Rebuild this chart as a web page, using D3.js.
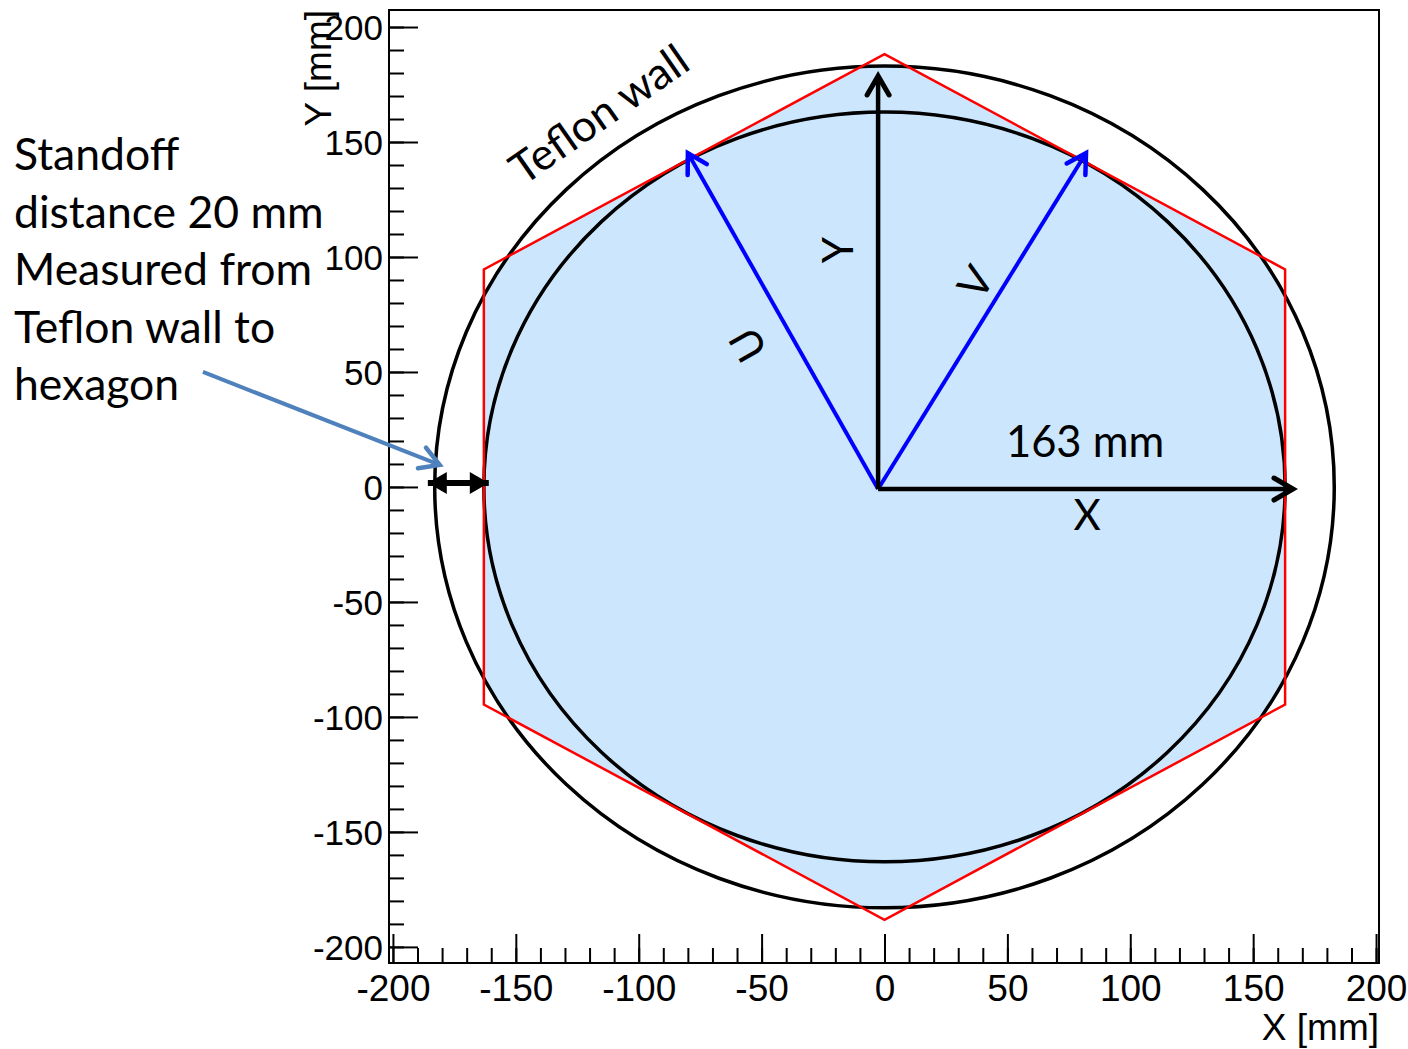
<!DOCTYPE html>
<html lang="en">
<head>
    <meta charset="UTF-8">
    <title>Hexagon and Teflon wall</title>
    <script src="https://d3js.org/d3.v7.min.js"></script>
    <style>
        body { margin: 0; background: #fff; }
        svg text { fill: #000; }
    </style>
</head>
<body>
    <div id="plot"></div>

    <script>
        // Axis ticks (mm)
        const xTickValues = [-200, -150, -100, -50, 0, 50, 100, 150, 200];
        const yTickValues = [-200, -150, -100, -50, 0, 50, 100, 150, 200];
        const minorTickValues = d3.range(-200, 201, 10);

        // Circles: Teflon wall and inner circle (radius in mm)
        const circleRadii = [183, 163];

        // Hexagon vertices (mm)
        const hexX = [0, 163, 163, 0, -163, -163];
        const hexY = [188.2, 94.6, -94.6, -188.2, -94.6, 94.6];

        // Arrows drawn on top of the plot (mm)
        const blackArrows = [
            { x1: -2.6, y1: -0.9, x2: -2.6, y2: 178.7 },
            { x1: -2.6, y1: -0.9, x2: 166.2, y2: -0.9 }
        ];
        const blueArrows = [
            { x1: -2.6, y1: -0.9, x2: -80, y2: 145.2 },
            { x1: -2.6, y1: -0.9, x2: 82, y2: 145.2 }
        ];
        const standoffArrow = { x1: -185.8, y1: 1.7, x2: -161, y2: 1.7 };
        const pointerArrow = { x1: -277.3, y1: 50, x2: -181, y2: 9.6 };

        // Arrow labels (mm, angle in degrees)
        const arrowLabels = [
            { text: 'Y', x: -19, y: 103, angle: -90 },
            { text: 'U', x: -55.6, y: 61.7, angle: -119.5 },
            { text: 'V', x: 37, y: 89, angle: -58 }
        ];
        const noteLines = ['Standoff', 'distance 20 mm', 'Measured from', 'Teflon wall to', 'hexagon'];

        const width = 1408;
        const height = 1049;
        const frame = { left: 389, right: 1379, top: 10, bottom: 963 };

        const svg = d3.select('#plot')
            .append('svg')
            .attr('width', width)
            .attr('height', height);

        const xScale = d3.scaleLinear()
            .domain([-201.6, 201.2])
            .range([frame.left, frame.right]);

        const yScale = d3.scaleLinear()
            .domain([-207, 207.4])
            .range([frame.bottom, frame.top]);

        const defs = svg.append('defs');

        // open chevron heads
        function chevron(id, color, size, sw) {
            defs.append('marker')
                .attr('id', id)
                .attr('markerUnits', 'userSpaceOnUse')
                .attr('viewBox', `${-size - 6} ${-size} ${2 * size + 6} ${2 * size}`)
                .attr('markerWidth', 2 * size + 6)
                .attr('markerHeight', 2 * size)
                .attr('refX', 0)
                .attr('refY', 0)
                .attr('orient', 'auto-start-reverse')
                .append('path')
                .attr('d', `M${-size * 0.95},${-size * 0.55} L0,0 L${-size * 0.95},${size * 0.55}`)
                .attr('fill', 'none')
                .attr('stroke', color)
                .attr('stroke-width', sw)
                .attr('stroke-linecap', 'round');
        }
        chevron('headBlack', '#000', 20, 5);
        chevron('headBlue', '#0000ff', 20, 4.5);
        chevron('headPointer', '#4f81bd', 20, 4.5);

        defs.append('marker')
            .attr('id', 'headSolid')
            .attr('markerUnits', 'userSpaceOnUse')
            .attr('viewBox', '-20 -12 22 24')
            .attr('markerWidth', 22)
            .attr('markerHeight', 24)
            .attr('refX', 0)
            .attr('refY', 0)
            .attr('orient', 'auto-start-reverse')
            .append('path')
            .attr('d', 'M-19,-11 L0,0 L-19,11 Z')
            .attr('fill', '#000');

        defs.append('clipPath')
            .attr('id', 'wallClip')
            .append('ellipse')
            .attr('cx', xScale(0))
            .attr('cy', yScale(0))
            .attr('rx', xScale(circleRadii[0]) - xScale(0))
            .attr('ry', yScale(0) - yScale(circleRadii[0]));

        const hexPoints = hexX.map((d, i) => [xScale(d), yScale(hexY[i])]);
        const hexPath = 'M' + hexPoints.join('L') + 'Z';

        // hexagon fill, cut at the Teflon wall
        svg.append('path')
            .attr('d', hexPath)
            .attr('fill', '#cce7fd')
            .attr('clip-path', 'url(#wallClip)');

        // circles
        svg.selectAll('ellipse.ring')
            .data(circleRadii)
            .join('ellipse')
            .attr('class', 'ring')
            .attr('cx', xScale(0))
            .attr('cy', yScale(0))
            .attr('rx', d => xScale(d) - xScale(0))
            .attr('ry', d => yScale(0) - yScale(d))
            .attr('fill', 'none')
            .attr('stroke', '#000')
            .attr('stroke-width', 3.5);

        svg.append('path')
            .attr('d', hexPath)
            .attr('fill', 'none')
            .attr('stroke', '#ff0000')
            .attr('stroke-width', 2.5);

        // frame
        svg.append('rect')
            .attr('x', frame.left)
            .attr('y', frame.top)
            .attr('width', frame.right - frame.left)
            .attr('height', frame.bottom - frame.top)
            .attr('fill', 'none')
            .attr('stroke', '#000')
            .attr('stroke-width', 2);

        // axes, ticks pointing inside
        const tickFont = '"Liberation Sans", Arial, sans-serif';
        const plainNum = d => String(d);

        const xMinor = svg.append('g')
            .attr('transform', `translate(0,${frame.bottom})`)
            .call(d3.axisBottom(xScale).tickValues(minorTickValues).tickSize(-15).tickFormat(''));
        const xMajor = svg.append('g')
            .attr('transform', `translate(0,${frame.bottom})`)
            .call(d3.axisBottom(xScale).tickValues(xTickValues).tickSize(-29).tickPadding(38).tickFormat(plainNum));
        const yMinor = svg.append('g')
            .attr('transform', `translate(${frame.left},0)`)
            .call(d3.axisLeft(yScale).tickValues(minorTickValues).tickSize(-15).tickFormat(''));
        const yMajor = svg.append('g')
            .attr('transform', `translate(${frame.left},0)`)
            .call(d3.axisLeft(yScale).tickValues(yTickValues).tickSize(-29).tickPadding(6).tickFormat(plainNum));

        [xMinor, xMajor, yMinor, yMajor].forEach(g => {
            g.select('.domain').remove();
            g.selectAll('line').attr('stroke', '#000').attr('stroke-width', 2);
        });
        xMajor.selectAll('text')
            .attr('font-family', tickFont)
            .attr('font-size', 37)
            .attr('fill', '#000')
            .attr('dy', '0');
        yMajor.selectAll('text')
            .attr('font-family', tickFont)
            .attr('font-size', 35)
            .attr('fill', '#000')
            .attr('dy', '0.36em');

        svg.append('text')
            .attr('x', frame.right)
            .attr('y', 1040)
            .attr('text-anchor', 'end')
            .attr('font-family', tickFont)
            .attr('font-size', 37)
            .text('X [mm]');

        svg.append('text')
            .attr('transform', `translate(331,${frame.top}) rotate(-90)`)
            .attr('text-anchor', 'end')
            .attr('font-family', tickFont)
            .attr('font-size', 37)
            .text('Y [mm]');

        // annotations
        const noteFont = 'Lato, "Open Sans", sans-serif';

        const arrowLine = (d, marker, color, sw) => svg.append('line')
            .attr('x1', xScale(d.x1)).attr('y1', yScale(d.y1))
            .attr('x2', xScale(d.x2)).attr('y2', yScale(d.y2))
            .attr('stroke', color)
            .attr('stroke-width', sw)
            .attr('marker-end', `url(#${marker})`);

        blueArrows.forEach(d => arrowLine(d, 'headBlue', '#0000ff', 4));
        blackArrows.forEach(d => arrowLine(d, 'headBlack', '#000', 4.5));
        arrowLine(pointerArrow, 'headPointer', '#4f81bd', 4);
        arrowLine(standoffArrow, 'headSolid', '#000', 6)
            .attr('marker-start', 'url(#headSolid)');

        svg.selectAll('text.arrowLabel')
            .data(arrowLabels)
            .join('text')
            .attr('class', 'arrowLabel')
            .attr('transform', d => `translate(${xScale(d.x)},${yScale(d.y)}) rotate(${d.angle})`)
            .attr('text-anchor', 'middle')
            .attr('dy', '0.36em')
            .attr('font-family', noteFont)
            .attr('font-size', 42)
            .text(d => d.text);

        svg.append('text')
            .attr('x', xScale(49.4))
            .attr('y', yScale(13))
            .attr('font-family', noteFont)
            .attr('font-size', 43.5)
            .text('163 mm');

        svg.append('text')
            .attr('x', xScale(82.4))
            .attr('y', yScale(-18.7))
            .attr('text-anchor', 'middle')
            .attr('font-family', noteFont)
            .attr('font-size', 42)
            .text('X');

        svg.append('text')
            .attr('transform', 'translate(608,127) rotate(-35)')
            .attr('text-anchor', 'middle')
            .attr('font-family', noteFont)
            .attr('font-size', 44)
            .text('Teflon wall');

        svg.append('text')
            .attr('font-family', noteFont)
            .attr('font-size', 44.5)
            .selectAll('tspan')
            .data(noteLines)
            .join('tspan')
            .attr('x', 14)
            .attr('y', (d, i) => 170 + i * 57.5)
            .text(d => d);
    </script>
</body>
</html>
